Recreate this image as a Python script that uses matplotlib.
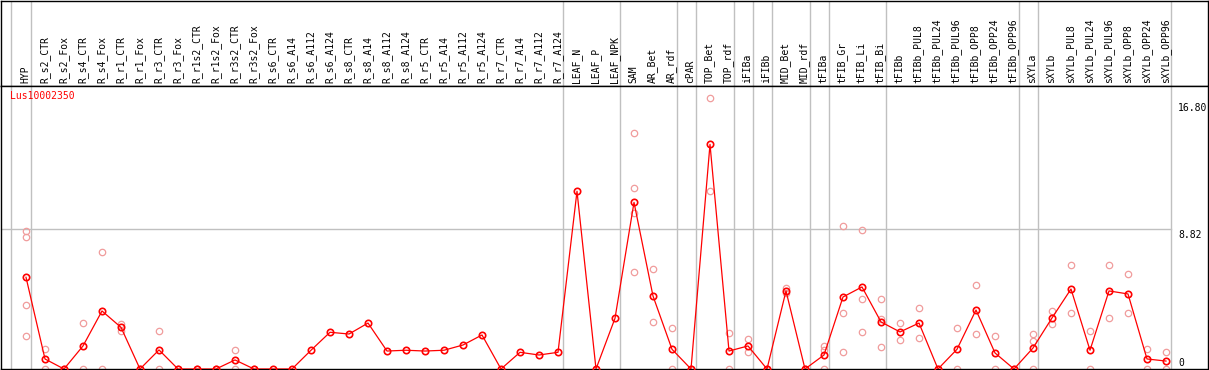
import matplotlib
matplotlib.use("Agg")
import matplotlib.pyplot as plt
from matplotlib.transforms import blended_transform_factory

labels = [
    "HYP", "R_s2_CTR", "R_s2_Fox", "R_s4_CTR", "R_s4_Fox", "R_r1_CTR", "R_r1_Fox",
    "R_r3_CTR", "R_r3_Fox", "R_r1s2_CTR", "R_r1s2_Fox", "R_r3s2_CTR", "R_r3s2_Fox",
    "R_s6_CTR", "R_s6_A14", "R_s6_A112", "R_s6_A124", "R_s8_CTR", "R_s8_A14",
    "R_s8_A112", "R_s8_A124", "R_r5_CTR", "R_r5_A14", "R_r5_A112", "R_r5_A124",
    "R_r7_CTR", "R_r7_A14", "R_r7_A112", "R_r7_A124", "LEAF_N", "LEAF_P", "LEAF_NPK",
    "SAM", "AR_Bet", "AR_rdf", "cPAR", "TOP_Bet", "TOP_rdf", "iFIBa", "iFIBb",
    "MID_Bet", "MID_rdf", "tFIBa", "tFIB_Gr", "tFIB_Li", "tFIB_Bi", "tFIBb",
    "tFIBb_PUL8", "tFIBb_PUL24", "tFIBb_PUL96", "tFIBb_OPP8", "tFIBb_OPP24", "tFIBb_OPP96",
    "sXYLa", "sXYLb", "sXYLb_PUL8", "sXYLb_PUL24", "sXYLb_PUL96", "sXYLb_OPP8",
    "sXYLb_OPP24", "sXYLb_OPP96",
]

means = [
    5.77, 0.63, 0.0, 1.45, 3.65, 2.62, 0.0, 1.2, 0.0, 0.0, 0.0, 0.57, 0.0,
    0.0, 0.0, 1.18, 2.31, 2.20, 2.89, 1.13, 1.18, 1.13, 1.18, 1.51, 2.14,
    0.0, 1.05, 0.88, 1.05, 11.18, 0.0, 3.19,
    10.48, 4.59, 1.24, 0.0, 14.13, 1.13, 1.45, 0.0, 4.91, 0.0,
    0.88, 4.53, 5.16, 2.96, 2.33, 2.89, 0.0, 1.24, 3.71, 1.01, 0.0,
    1.32, 3.21, 5.03, 1.18, 4.91, 4.72, 0.63, 0.50,
]

replicates = [
    [8.68, 8.28, 4.03, 2.08], [1.24, 0.0], [0.0, 0.0], [2.89, 0.0], [7.34, 0.0],
    [2.83, 2.41], [0.0, 0.0], [2.42, 0.0], [0.0, 0.0], [0.0, 0.0], [0.0, 0.0],
    [1.18, 0.0], [0.0, 0.0],
    [], [], [], [], [], [], [], [], [], [], [], [], [], [], [], [], [], [], [],
    [14.82, 11.36, 9.79, 6.08], [6.29, 2.94], [2.58, 0.0], [0.0, 0.0],
    [17.03, 11.18], [2.26, 0.0], [1.89, 1.05], [0.0, 0.0], [5.08, 4.76], [0.0, 0.0],
    [1.45, 1.19, 0.0], [8.99, 3.50, 1.05], [8.74, 4.40, 2.33], [4.40, 3.13, 1.38],
    [2.89, 1.81], [3.84, 1.95], [0.0, 0.0], [2.58, 0.0], [5.28, 2.20], [2.08, 0.0],
    [0.0, 0.0],
    [2.20, 1.76, 0.0], [3.65, 2.83], [6.52, 3.50], [2.39, 0.0], [6.52, 3.21],
    [5.96, 3.50], [1.24, 0.0], [1.07, 0.0],
]

# last column index of each sample group
group_ends = [0, 28, 31, 34, 35, 37, 38, 39, 41, 42, 45, 52, 53, 60]

axis_ticks = [0, 8.82, 16.80]
axis_tick_labels = ["0", "8.82", "16.80"]
gene_id = "Lus10002350"

MONO = "DejaVu Sans Mono"
RED = "#ff0000"
PINK = "#f09c9c"
GRID = "#c0c0c0"

W, H = 1209, 370


def box(l, t, r, b):
    return [l / W, 1 - b / H, (r - l) / W, (b - t) / H]


fig = plt.figure(figsize=(W / 100, H / 100), dpi=100)
head = fig.add_axes(box(0.5, 0.5, 1207.5, 85.5))
ax = fig.add_axes(box(0.5, 85.5, 1207.5, 369))

xlim = ((0.5 - 26) / 19, (1207.5 - 26) / 19)
for a in (head, ax):
    a.set_xlim(*xlim)
    a.set_xticks([])
    a.set_yticks([])
    for sp in a.spines.values():
        sp.set_color("black")
        sp.set_linewidth(1.0)
    a.axvline(-0.8, color=GRID, lw=1.0, zorder=0)
    for e in group_ends:
        a.axvline(e + 0.25, color=GRID, lw=1.0, zorder=0)

head.set_ylim(0, 1)
ht = blended_transform_factory(head.transData, head.transAxes)
for i, lab in enumerate(labels):
    head.text(i - 0.03, 0.035, lab, rotation=90, ha="center", va="bottom",
              transform=ht, fontsize=7, family=MONO, color="black")

ax.set_ylim(0, 17.83)
ax.plot([xlim[0], group_ends[-1] + 0.25], [axis_ticks[1]] * 2, color=GRID, lw=1.0, zorder=0)

# replicate points
rx, ry = [], []
for i, reps in enumerate(replicates):
    for v in reps:
        rx.append(i)
        ry.append(v)
ax.plot(rx, ry, linestyle="none", marker="o", ms=4.6, mfc="none", mec=PINK, mew=0.9, zorder=2)

xs = list(range(len(labels)))
ax.plot(xs, means, color=RED, lw=0.9, marker="o", ms=4.6, mfc="none", mec=RED, mew=1.2, zorder=3)

lx = (1178 - 26) / 19
ax.text(lx, axis_ticks[2] - 0.05, axis_tick_labels[2], ha="left", va="top", fontsize=7, family=MONO)
ax.text(lx, axis_ticks[1] - 0.05, axis_tick_labels[1], ha="left", va="top", fontsize=7, family=MONO)
ax.text(lx, 0.22, axis_tick_labels[0], ha="left", va="baseline", fontsize=7, family=MONO)

ax.text((10 - 0.5) / 1207, 1 - (91 - 85.5) / 283.5, gene_id, transform=ax.transAxes,
        ha="left", va="top", fontsize=7, family=MONO, color=RED)

fig.savefig("out.png", dpi=100)
